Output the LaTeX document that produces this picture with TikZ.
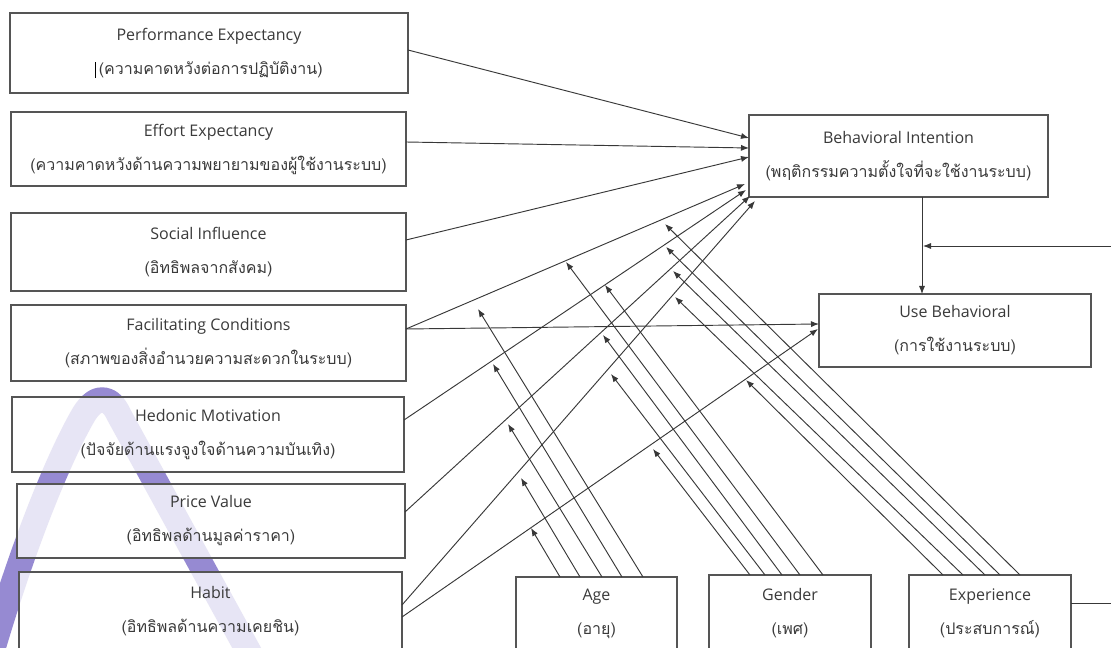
\documentclass[tikz,border=0pt]{standalone}
\usepackage{fontspec}
\setmainfont{Open Sans}
\newfontfamily\thaifont[Script=Thai,Scale=1.0]{Loma}
\usetikzlibrary{arrows.meta,calc}
\definecolor{linec}{HTML}{383838}
\definecolor{boxc}{HTML}{555555}
\definecolor{textc}{HTML}{3A3A3A}
\definecolor{wmark}{RGB}{150,138,210}
\newcommand\mybox[6]{\node[box, minimum width={(#4-#2)*0.75pt}, minimum height={(#5-#3)*0.75pt}] (#1) at ({(#2+#4)/2},{(#3+#5)/2}) {#6};}
\begin{document}
\begin{tikzpicture}[x=0.75pt,y=-0.75pt,
  box/.style={draw=boxc, line width=0.8pt, fill=white, fill opacity=0.78, text opacity=1,
    inner sep=0pt, align=center, text=textc, font=\fontsize{12}{25.5}\selectfont},
  arr/.style={draw=linec, line width=0.7pt, -{Latex[length=6pt,width=4.6pt]}},
  plainline/.style={draw=linec, line width=0.7pt}]
\useasboundingbox (0,0) rectangle (1111,648);
\fill[white] (0,0) rectangle (1111,648);
% watermark
\draw[wmark, line width=19pt, line join=round]
  (-14,672) .. controls (22,545) and (60,455) .. (84,414)
  .. controls (97,393) and (111,397) .. (119,415) -- (256,665);
% boxes
\mybox{pe}{10}{13}{408}{93}{Performance Expectancy\\{\thaifont\textcolor{black}{\rule[-3pt]{0.6pt}{12pt}}\,(ความคาดหวังต่อการปฏิบัติงาน)}}
\mybox{ee}{11}{112}{406}{186}{Effort Expectancy\\{\thaifont (ความคาดหวังด้านความพยายามของผู้ใช้งานระบบ)}}
\mybox{si}{11}{213}{406}{291}{Social Influence\\{\thaifont (อิทธิพลจากสังคม)}}
\mybox{fc}{11}{305}{406}{381}{Facilitating Conditions\\{\thaifont (สภาพของสิ่งอำนวยความสะดวกในระบบ)}}
\mybox{hm}{12}{397}{404}{472}{Hedonic Motivation\\{\thaifont (ปัจจัยด้านแรงจูงใจด้านความบันเทิง)}}
\mybox{pv}{17}{484}{405}{558}{Price Value\\{\thaifont (อิทธิพลด้านมูลค่าราคา)}}
\mybox{ht}{19}{572}{402}{650}{Habit\\{\thaifont (อิทธิพลด้านความเคยชิน)}}
\mybox{bi}{749}{115}{1048}{197}{Behavioral Intention\\{\thaifont (พฤติกรรมความตั้งใจที่จะใช้งานระบบ)}}
\mybox{ub}{819}{294}{1091}{367}{Use Behavioral\\{\thaifont (การใช้งานระบบ)}}
\mybox{age}{516}{577}{677}{651}{Age\\{\thaifont (อายุ)}}
\mybox{gen}{709}{575}{871}{651}{Gender\\{\thaifont (เพศ)}}
\mybox{exp}{909}{575}{1071}{651}{Experience\\{\thaifont (ประสบการณ์)}}
% connection points
\coordinate (pe-o) at (408,50);   \coordinate (bi-1) at (749,138);
\coordinate (ee-o) at (406,142);  \coordinate (bi-2) at (749,148);
\coordinate (si-o) at (406,240);  \coordinate (bi-3) at (749,157);
\coordinate (fc-o) at (406,329);  \coordinate (bi-4) at (745,184);
\coordinate (ub-1) at (819,324);
\coordinate (hm-o) at (404,420);  \coordinate (bi-5) at (746,190);
\coordinate (pv-o) at (405,512);  \coordinate (bi-6) at (750,196);
\coordinate (ht-o1) at (402,605); \coordinate (bi-7) at (755,201);
\coordinate (ht-o2) at (402,617); \coordinate (ub-2) at (818,329);
\coordinate (bi-s) at (922,197);  \coordinate (ub-n) at (922,294);
\coordinate (mid) at (923,246);   \coordinate (redge) at (1111,246);
\coordinate (exp-e) at (1071,603); \coordinate (redge2) at (1111,603);
% main connectors
\draw[arr] (pe-o) -- (bi-1);
\draw[arr] (ee-o) -- (bi-2);
\draw[arr] (si-o) -- (bi-3);
\draw[arr] (fc-o) -- (bi-4);
\draw[arr] (fc-o) -- (ub-1);
\draw[arr] (hm-o) -- (bi-5);
\draw[arr] (pv-o) -- (bi-6);
\draw[arr] (ht-o1) -- (bi-7);
\draw[arr] (ht-o2) -- (ub-2);
\draw[arr] (bi-s) -- (ub-n);
\draw[arr] (redge) -- (mid);
\draw[plainline] (exp-e) -- (redge2);
% moderators: Age
\foreach \i/\sx/\tx/\ty in {1/560/531/528, 2/580/521/478, 3/602/508/424, 4/622/493/364, 5/643/478/309}{
  \coordinate (ag\i) at (\sx,577);
  \coordinate (agt\i) at (\tx,\ty);
  \draw[arr] (ag\i) -- (agt\i);
}
% Gender
\foreach \i/\sx/\tx/\ty in {1/750/653/449, 2/765/611/374, 3/782/603/335, 4/800/566/262, 5/823/605/285}{
  \coordinate (gn\i) at (\sx,575);
  \coordinate (gnt\i) at (\tx,\ty);
  \draw[arr] (gn\i) -- (gnt\i);
}
% Experience
\foreach \i/\sx/\tx/\ty in {1/943/746/380, 2/963/675/297, 3/985/673/271, 4/1000/666/247, 5/1020/665/224}{
  \coordinate (ex\i) at (\sx,575);
  \coordinate (ext\i) at (\tx,\ty);
  \draw[arr] (ex\i) -- (ext\i);
}
\end{tikzpicture}
\end{document}
